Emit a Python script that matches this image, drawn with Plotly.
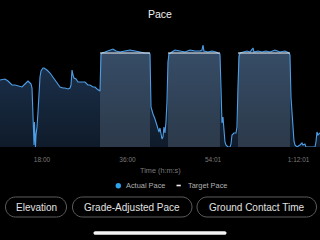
import plotly.graph_objects as go

# ---------------- data ----------------
# elapsed time (minutes) and actual pace (relative speed units)
time_min = [9.16, 9.79, 10.21, 10.84, 11.69, 12.32, 12.95, 13.79, 14.42, 15.05, 15.48, 15.69, 15.90,
            16.00, 16.11, 16.21, 16.32, 16.42, 16.53, 16.63, 16.74, 16.95, 17.16, 17.37, 17.58, 17.79,
            18.21, 18.42, 19.05, 19.69, 20.32, 20.74, 21.37, 21.79, 22.42, 22.84, 23.47, 23.90, 24.11,
            24.32, 24.53, 24.74, 25.16, 25.58, 26.42, 27.05, 27.68, 28.11, 28.74, 29.16, 29.58, 30.00,
            30.21, 30.42, 30.63, 31.26, 31.89, 32.32, 32.95, 33.58, 34.42, 35.47, 36.53, 37.58, 38.63,
            39.68, 40.52, 40.74, 40.95, 41.16, 41.37, 41.79, 42.21, 42.63, 42.84, 43.05, 43.26, 43.47,
            43.68, 43.89, 44.10, 44.31, 44.52, 44.73, 44.95, 45.37, 46.00, 47.05, 48.10, 49.16, 50.21,
            51.26, 51.68, 51.89, 52.10, 52.94, 53.79, 54.63, 55.26, 55.47, 55.68, 55.89, 56.10, 56.31,
            56.52, 56.73, 57.15, 57.58, 57.79, 58.00, 58.42, 58.84, 59.05, 59.26, 59.47, 59.68, 60.31,
            61.15, 61.79, 62.42, 62.63, 63.47, 64.31, 65.15, 65.99, 67.05, 68.10, 69.15, 69.99, 70.21,
            70.42, 70.63, 70.84, 71.05, 71.26, 71.68, 72.31, 72.73, 72.94, 73.36, 73.57, 75.47, 75.68,
            75.89, 76.10, 76.52]
actual_pace = [67, 68, 68, 66, 62, 62, 61, 60, 63, 66, 64, 63, 59,
               40, 29, 10, 2, 25, 2, 0, 12, 20, 35, 55, 70, 76,
               79, 79, 77, 74, 70, 67, 63, 60, 59, 59, 58, 59, 62,
               77, 72, 69, 68, 65, 65, 65, 62, 62, 60, 60, 58, 57,
               56, 92, 94, 95, 96, 97, 98, 96, 95, 96, 97, 96, 95,
               94, 94, 93, 40, 36, 33, 28, 22, 15, 19, 12, 8, 10,
               20, 14, 25, 45, 85, 93, 94, 95, 97, 96, 95, 97, 96,
               96, 97, 102, 96, 95, 96, 95, 94, 93, 60, 24, 30, 10,
               5, 2, 0, 0, 3, 12, 14, 14, 20, 60, 90, 94, 95,
               96, 95, 99, 95, 96, 95, 96, 95, 97, 95, 96, 94, 92,
               50, 32, 20, 6, 2, 0, 2, 4, 2, 3, 0, 0, 5,
               15, 12, 14]

# target pace intervals (minutes) and target value
target_start = [30.21, 44.52, 59.26]
target_end = [40.74, 55.47, 70.21]
target_value = [94, 94, 94]

tick_vals = [18.0, 36.0, 54.017, 72.017]
tick_text = ["18:00", "36:00", "54:01", "1:12:01"]

title_text = "Pace"
x_title = "Time (h:m:s)"
legend_labels = ["Actual Pace", "Target Pace"]
buttons = ["Elevation", "Grade-Adjusted Pace", "Ground Contact Time"]

# ---------------- figure ----------------
W, H = 320, 240
FONT = "Liberation Sans, Arial, sans-serif"


def px(x):
    return x / W


def py(y):
    return 1 - y / H


fig = go.Figure()

# actual pace area (gradient fill)
fig.add_trace(go.Scatter(
    x=time_min, y=actual_pace, mode="lines", line=dict(width=0, color="rgba(0,0,0,0)"),
    fill="tozeroy",
    fillgradient=dict(type="vertical", colorscale=[[0, "#0f1b2a"], [1, "#1e3552"]]),
    hoverinfo="skip", showlegend=False))

# target pace blocks (translucent rectangles over the area)
for s, e, v in zip(target_start, target_end, target_value):
    fig.add_trace(go.Scatter(
        x=[s, s, e, e, s], y=[0, v, v, 0, 0], mode="lines",
        line=dict(width=0, color="rgba(0,0,0,0)"), fill="toself",
        fillcolor="rgba(130,150,170,0.25)", hoverinfo="skip", showlegend=False))

# actual pace line
fig.add_trace(go.Scatter(
    x=time_min, y=actual_pace, mode="lines",
    line=dict(width=1.1, color="#4d9ee6"), hoverinfo="skip", showlegend=False))

# target pace line
tx, ty = [], []
for s, e, v in zip(target_start, target_end, target_value):
    tx += [s, e, None]
    ty += [v, v, None]
fig.add_trace(go.Scatter(
    x=tx, y=ty, mode="lines", line=dict(width=1, color="#f2f2f2"),
    hoverinfo="skip", showlegend=False))

# tick dots
fig.add_trace(go.Scatter(
    x=tick_vals, y=[-2.6] * len(tick_vals), mode="markers",
    marker=dict(size=5, color="#8a8a8a"), cliponaxis=False,
    hoverinfo="skip", showlegend=False))

fig.update_layout(
    width=W, height=H,
    margin=dict(l=0, r=0, t=0, b=0),
    paper_bgcolor="black", plot_bgcolor="rgba(0,0,0,0)",
    font=dict(family=FONT),
    showlegend=False,
    xaxis=dict(range=[9.158, 76.53], tickvals=tick_vals, ticktext=tick_text,
               showgrid=False, zeroline=False, showline=False,
               ticks="outside", ticklen=6, tickcolor="rgba(0,0,0,0)",
               tickfont=dict(size=6.5, color="#7a7a7a"), fixedrange=True),
    yaxis=dict(range=[0, 104], domain=[py(147), py(43)], visible=False, fixedrange=True),
)

annotations = [
    dict(text=title_text, x=px(160), y=py(14), xref="paper", yref="paper",
         showarrow=False, font=dict(size=10.5, color="#f0f0f0"), xanchor="center", yanchor="middle"),
    dict(text=x_title, x=px(160), y=py(170.5), xref="paper", yref="paper",
         showarrow=False, font=dict(size=7.3, color="#7a7a7a"), xanchor="center", yanchor="middle"),
    dict(text=legend_labels[0], x=px(124), y=py(185.5), xref="paper", yref="paper",
         showarrow=False, font=dict(size=7.4, color="#b0b0b0"), xanchor="left", yanchor="middle"),
    dict(text=legend_labels[1], x=px(185.5), y=py(185.5), xref="paper", yref="paper",
         showarrow=False, font=dict(size=7.4, color="#b0b0b0"), xanchor="left", yanchor="middle"),
]

shapes = [
    dict(type="circle", xref="paper", yref="paper",
         x0=px(115.6), x1=px(121.0), y0=py(188.4), y1=py(183.0),
         fillcolor="#2fa2ee", line=dict(width=0)),
    dict(type="line", xref="paper", yref="paper",
         x0=px(176.5), x1=px(180.8), y0=py(185.5), y1=py(185.5),
         line=dict(color="#f0f0f0", width=1.6)),
]


def pill_path(x0, x1, y0, y1):
    r = (y1 - y0) / 2
    yc = (y0 + y1) / 2
    k = 0.5523 * r
    pts = [
        ("M", [(x0 + r, y0)]),
        ("L", [(x1 - r, y0)]),
        ("C", [(x1 - r + k, y0), (x1, yc - k), (x1, yc)]),
        ("C", [(x1, yc + k), (x1 - r + k, y1), (x1 - r, y1)]),
        ("L", [(x0 + r, y1)]),
        ("C", [(x0 + r - k, y1), (x0, yc + k), (x0, yc)]),
        ("C", [(x0, yc - k), (x0 + r - k, y0), (x0 + r, y0)]),
    ]
    s = ""
    for cmd, ps in pts:
        s += cmd + " " + " ".join(f"{px(a):.5f},{py(b):.5f}" for a, b in ps) + " "
    return s + "Z"


button_bounds = [(5.5, 66.5), (72.5, 192.0), (197.0, 316.5)]
for label, (bx0, bx1) in zip(buttons, button_bounds):
    shapes.append(dict(type="path", xref="paper", yref="paper",
                       path=pill_path(bx0, bx1, 197.0, 217.0),
                       line=dict(color="#5c5c5c", width=1), fillcolor="rgba(0,0,0,0)"))
    annotations.append(dict(text=label, x=px((bx0 + bx1) / 2), y=py(207.2), xref="paper", yref="paper",
                            showarrow=False, font=dict(size=10, color="#e2e2e2"),
                            xanchor="center", yanchor="middle"))

# home indicator
shapes.append(dict(type="path", xref="paper", yref="paper",
                   path=pill_path(93.5, 226.5, 231.2, 234.8),
                   line=dict(width=0), fillcolor="#f4f4f4"))

fig.update_layout(annotations=annotations, shapes=shapes)

fig.write_html("out.html")
